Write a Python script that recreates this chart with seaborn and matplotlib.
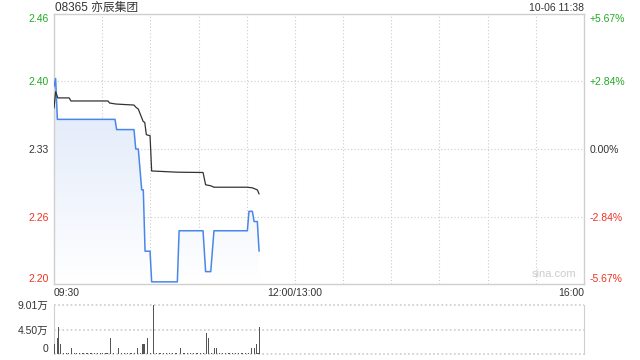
import numpy as np
import pandas as pd
import matplotlib
matplotlib.use("Agg")
import matplotlib.pyplot as plt
import seaborn as sns
from matplotlib.patches import PathPatch
from matplotlib.colors import LinearSegmentedColormap

# ---------------- data ----------------
title = "08365 亦辰集团"
stamp = "10-06 11:38"
prev_close = 2.33
pct_levels = [5.67, 2.84, 0.0, -2.84, -5.67]
price_labels = ["2.46", "2.40", "2.33", "2.26", "2.20"]
pct_labels = ["+5.67%", "+2.84%", "0.00%", "-2.84%", "-5.67%"]
time_labels = ["09:30", "12:00/13:00", "16:00"]
time_label_pos = [0, 150, 330]

price_min = [0, 1.0, 2.1, 38.0, 39.0, 49.8, 50.9, 52.5, 54.6, 55.6, 56.7, 59.8, 60.8,
             76.8, 77.9, 92.8, 94.4, 97.6, 99.6, 120.4, 121.4, 123.5, 124.6, 126.6, 127.7]
price_val = [2.391, 2.399, 2.359, 2.359, 2.349, 2.349, 2.330, 2.330, 2.290, 2.290, 2.230, 2.230, 2.200,
             2.200, 2.250, 2.250, 2.210, 2.210, 2.250, 2.250, 2.269, 2.269, 2.259, 2.259, 2.230]

avg_min = [0, 1.0, 2.4, 9.5, 10.5, 33.6, 34.6, 38.6, 49.8, 50.9, 52.5, 53.5, 55.5, 56.5,
           57.5, 59.8, 60.8, 76.8, 92.8, 94.4, 97.6, 99.6, 120.4, 123.5, 126.6, 127.7]
avg_val = [2.370, 2.386, 2.380, 2.380, 2.377, 2.377, 2.375, 2.374, 2.373, 2.371, 2.369, 2.365, 2.357, 2.356,
           2.344, 2.343, 2.3085, 2.3073, 2.3070, 2.295, 2.294, 2.2926, 2.2926, 2.292, 2.290, 2.286]

vol_min = [0, 2, 3, 4, 11, 35, 40, 52, 55, 56, 58, 62, 79, 95, 96, 100, 101, 123, 125, 126, 128,
           6, 8, 9, 13, 14, 16, 18, 20, 21, 23, 25, 27, 29, 30, 32, 33, 37, 42, 44, 46, 48, 50,
           54, 60, 64, 66, 68, 70, 72, 74, 76, 81, 83, 85, 87, 89, 91, 93, 98, 103, 105, 107,
           109, 111, 113, 115, 117, 119, 121, 127]
vol_val = [19200, 30000, 49900, 19200, 10200, 30000, 10200, 10200, 19200, 19200, 30000, 90100,
           10200, 39000, 30000, 10200, 10200, 10200, 10200, 19200, 49900,
           1200, 1200, 1200, 1200, 1200, 1200, 1200, 1200, 1200, 1200, 1200, 1200, 1200, 1200,
           1200, 1200, 1200, 1200, 1200, 1200, 1200, 1200, 1200, 1200, 1200, 1200, 1200, 1200,
           1200, 1200, 1200, 1200, 1200, 1200, 1200, 1200, 1200, 1200, 1200, 1200, 1200, 1200,
           1200, 1200, 1200, 1200, 1200, 1200, 1200, 1200]
vol_ticks = [0, 45050, 90100]
vol_labels = ["0", "4.50万", "9.01万"]

# ---------------- style ----------------
sns.set_style("white")
plt.rcParams["font.family"] = ["Liberation Sans", "Noto Sans CJK SC", "DejaVu Sans"]

W, H = 640, 360
fig = plt.figure(figsize=(6.4, 3.6), dpi=100)

def ax_rect(x0, y0, x1, y1):
    return [x0 / W, 1 - y1 / H, (x1 - x0) / W, (y1 - y0) / H]

GREEN = "#22aa22"
RED = "#ee3322"
DARK = "#333333"
GRID = "#cccccc"
BORDER = "#cfcfcf"

levels = [prev_close * (1 + p / 100) for p in pct_levels]
ymax, ymin = levels[0], levels[-1]

ax = fig.add_axes(ax_rect(54, 14, 584, 284))
ax.set_xlim(0, 330)
ax.set_ylim(ymin, ymax)

# gradient fill under price line
df_p = pd.DataFrame({"t": price_min, "p": price_val})
df_a = pd.DataFrame({"t": avg_min, "p": avg_val})
poly = ax.fill_between(df_p["t"], df_p["p"], ymin, facecolor="none", edgecolor="none")
path = poly.get_paths()[0]
patch = PathPatch(path, transform=ax.transData, facecolor="none", edgecolor="none")
ax.add_patch(patch)
cmap = LinearSegmentedColormap.from_list("g", ["#ffffff", "#d3e1f7"])
grad = np.linspace(0, 1, 256).reshape(-1, 1)
im = ax.imshow(grad, extent=[0, 330, ymin, ymax], origin="lower", aspect="auto",
               cmap=cmap, zorder=1)
im.set_clip_path(patch)
ax.set_xlim(0, 330)
ax.set_ylim(ymin, ymax)

sns.lineplot(data=df_p, x="t", y="p", ax=ax, color="#4a86ea", lw=1.1, zorder=3)
sns.lineplot(data=df_a, x="t", y="p", ax=ax, color="#333333", lw=0.9, zorder=4)

# grid
for lv in levels[1:-1]:
    ax.axhline(lv, color=GRID, lw=0.8, ls=(0, (1, 2)), zorder=0)
for m in range(30, 330, 30):
    ax.axvline(m, color=GRID, lw=0.8, ls=(0, (1, 2)), zorder=0)
for s in ax.spines.values():
    s.set_color(BORDER)
    s.set_linewidth(1)

ax.set_xlabel("")
ax.set_ylabel("")
ax.set_yticks(levels)
ax.set_yticklabels(price_labels)
ax.tick_params(axis="both", length=0, labelsize=7.5, pad=4)
colors = [GREEN, GREEN, DARK, RED, RED]
for i, lab in enumerate(ax.get_yticklabels()):
    lab.set_color(colors[i])
    if i == 0:
        lab.set_va("top")
    elif i == len(levels) - 1:
        lab.set_va("bottom")
ax.set_xticks(time_label_pos)
ax.set_xticklabels(time_labels)
has = ["left", "center", "right"]
for i, lab in enumerate(ax.get_xticklabels()):
    lab.set_ha(has[i])
    lab.set_color(DARK)
ax.tick_params(axis="x", pad=3)

ax2 = ax.twinx()
ax2.set_ylim(ymin, ymax)
ax2.set_yticks(levels)
ax2.set_yticklabels(pct_labels)
ax2.tick_params(axis="y", length=0, labelsize=7.5, pad=4)
for s in ax2.spines.values():
    s.set_visible(False)
for i, lab in enumerate(ax2.get_yticklabels()):
    lab.set_color(colors[i])
    if i == 0:
        lab.set_va("top")
    elif i == len(levels) - 1:
        lab.set_va("bottom")

ax.text(0.985, 0.02, "sina.com", transform=ax.transAxes, ha="right",
        va="bottom", fontsize=8, color="#cccccc", zorder=5)

# volume
axv = fig.add_axes(ax_rect(54, 305, 584, 354))
axv.bar(vol_min, vol_val, width=0.75, color="#555555", align="center",
        linewidth=0, edgecolor="none", zorder=3)
axv.set_xlim(0, 330)
axv.set_ylim(0, 90100)
for v in vol_ticks:
    axv.axhline(v, color=GRID, lw=1.2, ls=(0, (1, 1.5)), zorder=0, clip_on=False)
axv.spines["top"].set_visible(False)
axv.spines["bottom"].set_visible(False)
axv.spines["left"].set_color(BORDER)
axv.spines["right"].set_color(BORDER)
axv.set_xticks([])
axv.set_yticks(vol_ticks)
axv.set_yticklabels(vol_labels)
axv.tick_params(axis="y", length=0, labelsize=7.5, pad=4, labelcolor=DARK)
for i, lab in enumerate(axv.get_yticklabels()):
    if i == 0:
        lab.set_va("bottom")

# header
fig.text(55 / W, 1 - 8 / H, title, ha="left", va="center", fontsize=8.5, color=DARK)
fig.text(584 / W, 1 - 8 / H, stamp, ha="right", va="center", fontsize=7.5, color=DARK)

fig.savefig("out.png", dpi=100)
